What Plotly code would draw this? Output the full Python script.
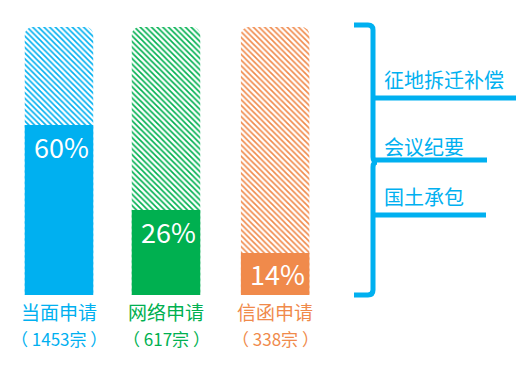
import plotly.graph_objects as go

OFF = 8                      # browser body margin
W, H = 525 - OFF, 367 - OFF  # figure size that fits the window

categories = ["当面申请", "网络申请", "信函申请"]
counts = ["（ 1453宗 ）", "（ 617宗 ）", "（ 338宗 ）"]
percent_labels = ["60%", "26%", "14%"]
fill_height = [63.4, 31.7, 15.7]   # visual heights of filled part (out of 100)
full_height = [100, 100, 100]
colors = ["#00B0F0", "#00B050", "#F08A4B"]
side_items = ["征地拆迁补偿", "会议纪要", "国土承包"]

FONT = "Noto Sans CJK SC, Microsoft YaHei, sans-serif"
x_pos = [0, 1, 2.02]

fig = go.Figure()
fig.add_trace(go.Bar(
    x=x_pos, y=full_height, width=0.64,
    marker=dict(color="white", cornerradius=8, line=dict(width=0),
                pattern=dict(shape="\\", fgcolor=colors, bgcolor="white",
                             size=4, solidity=0.4, fillmode="replace")),
    hoverinfo="skip", showlegend=False))
fig.add_trace(go.Bar(
    x=x_pos, y=fill_height, width=0.64,
    marker=dict(color=colors, line=dict(width=0)),
    hoverinfo="skip", showlegend=False))

annotations = []
for i in range(3):
    annotations.append(dict(x=x_pos[i], y=fill_height[i], xref="x", yref="y",
                            text=percent_labels[i], showarrow=False,
                            xshift=2, yshift=-21, yanchor="middle",
                            font=dict(family=FONT, size=27, color="white")))
    annotations.append(dict(x=x_pos[i], y=0, xref="x", yref="y",
                            text=categories[i], showarrow=False,
                            yshift=-16.5, yanchor="middle",
                            font=dict(family=FONT, size=19, color=colors[i])))
    annotations.append(dict(x=x_pos[i], y=0, xref="x", yref="y",
                            text=counts[i], showarrow=False,
                            yshift=-43, yanchor="middle",
                            font=dict(family=FONT, size=17, color=colors[i])))

def px(x):
    return (x - OFF) / W

def py(y):
    return 1 - (y - OFF) / H

side_y = [79, 146, 196]
for t, yy in zip(side_items, side_y):
    annotations.append(dict(x=px(382), y=py(yy), xref="paper", yref="paper",
                            text=t, showarrow=False, xanchor="left", yanchor="middle",
                            font=dict(family=FONT, size=20, color="#00B0F0")))

blue = "#00B0F0"
def P(x, y):
    return f"{px(x):.5f},{py(y):.5f}"

brace = (f"M{P(354,25)} L{P(368,25)} Q{P(373,25)} {P(373,30)} "
         f"L{P(373,157)} Q{P(373,162)} {P(377,162)} "
         f"Q{P(373,162)} {P(373,167)} L{P(373,290)} "
         f"Q{P(373,295)} {P(368,295)} L{P(354,295)}")
shapes = [dict(type="path", path=brace, xref="paper", yref="paper",
               line=dict(color=blue, width=5))]
for (yy, x1) in [(98, 516), (160, 487), (215, 486)]:
    shapes.append(dict(type="line", xref="paper", yref="paper",
                       x0=px(373), x1=px(x1), y0=py(yy), y1=py(yy),
                       line=dict(color=blue, width=5)))

# axis mapping: bar 0 centre at page x=59, 107 px per category;
# y=0 at page y=295, 2.68 px per unit
ppx = 107
x0_page = 59 - OFF
ppu = 268 / 100
y0_page = 295 - OFF
fig.update_layout(
    width=W, height=H, margin=dict(l=0, r=0, t=0, b=0),
    paper_bgcolor="white", plot_bgcolor="white",
    barmode="overlay", showlegend=False,
    xaxis=dict(range=[-x0_page / ppx, (W - x0_page) / ppx], visible=False, fixedrange=True),
    yaxis=dict(range=[-(H - y0_page) / ppu, y0_page / ppu], visible=False, fixedrange=True),
    annotations=annotations, shapes=shapes,
)
fig.write_html("out.html")
